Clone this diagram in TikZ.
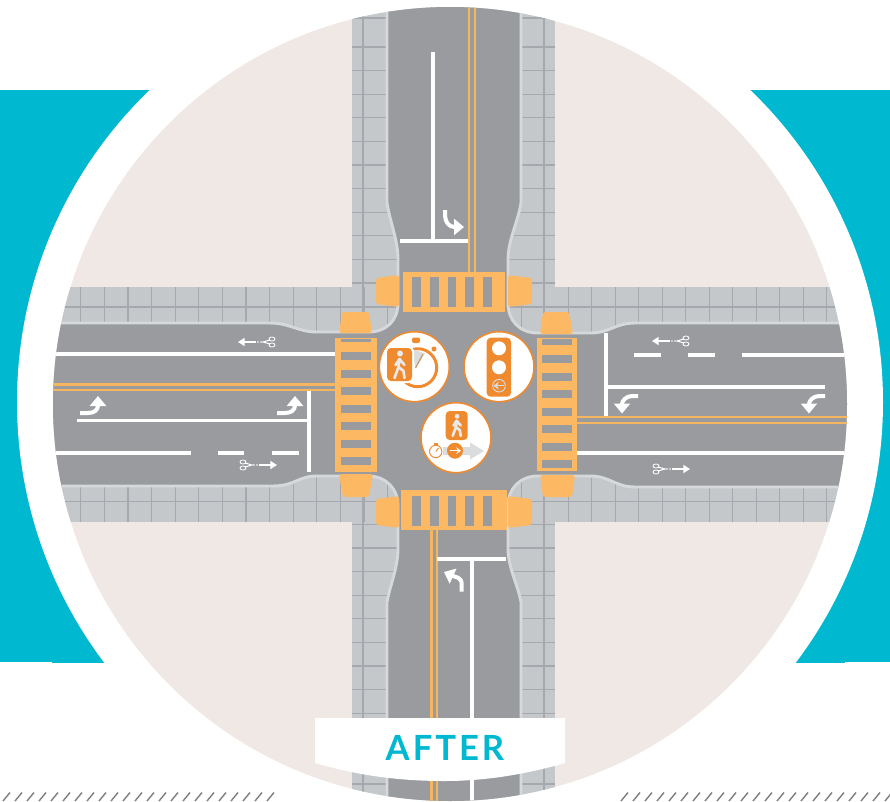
\documentclass[tikz,border=0pt]{standalone}
\usepackage{fontspec}
\setmainfont{Lato}
\newfontfamily\capfont[LetterSpace=8.5]{Lato}
\usetikzlibrary{positioning,arrows.meta,calc}
\definecolor{teal}{HTML}{00B8D0}
\definecolor{sand}{HTML}{F0E8E4}
\definecolor{paving}{HTML}{C5C8CB}
\definecolor{seam}{HTML}{A5A8AC}
\definecolor{asph}{HTML}{999B9F}
\definecolor{kerb}{HTML}{D6D9DB}
\definecolor{ochre}{HTML}{F6B65F}
\definecolor{paint}{HTML}{FDB863}
\definecolor{signor}{HTML}{EF8A2E}
\definecolor{pale}{HTML}{DADCDE}
\definecolor{hatchc}{HTML}{808285}
\tikzset{
  seamln/.style={line width=0.9pt,seam},
  whln/.style={line width=2.7pt,white},
  yelln/.style={line width=1.8pt,ochre},
  kerbln/.style={line width=2.2pt,kerb},
  turn/.style={line width=3pt,white,-{Triangle[length=7.5pt,width=12pt]}},
  bar/.style={fill=paint},
  gap/.style={fill=asph},
  flare/.style={fill=paint,rounded corners=2pt},
  disc/.style={circle,draw=signor,fill=white,line width=1.2pt,minimum size=52.5pt,inner sep=0pt},
  sign/.style={fill=signor,rounded corners=3pt},
  walker/.pic={
    \fill[pale!60!white] (0.5,-11.5) circle[radius=3];
    \draw[pale!60!white,line width=2pt,line cap=round,line join=round]
      (-5,13) -- (-1,2) -- (0,-6) -- (5,0) (-1,2) -- (4,6) -- (5,13) (0,-6) -- (-4,0);
  },
  bike/.pic={
    \draw[white,line width=0.6pt] (0,-3) circle[x radius=3,y radius=2] (0,3) circle[x radius=3,y radius=2];
    \draw[white,line width=0.8pt] (2,-2) -- (9,0) -- (2,2);
    \fill[white] (11,0) circle[radius=.8] (14,0) circle[radius=.8];
    \draw[white,line width=1.3pt,-{Triangle[length=5pt,width=6pt]}] (16,0) -- (34,0);
  },
}
\begin{document}
\begin{tikzpicture}[x=0.75pt,y=-0.75pt]
  \useasboundingbox (0,0) rectangle (890,801);
  \clip (0,0) rectangle (890,801);
  \fill[white] (0,0) rectangle (890,801);
  \fill[teal] (0,90) rectangle (200,662);
  \fill[teal] (52,662) rectangle (200,663);
  \fill[teal] (700,90) rectangle (890,662);
  \fill[teal] (700,662) rectangle (845,663);
  \fill[white] (450,402) circle[radius=433];
  % hatching along the lower edge
  \foreach \x in {10,22,...,274,628,640,...,898}{
    \draw[hatchc,line width=1.1pt] (\x,792.5) -- (\x-7,801);
  }
  \fill[sand] (450,404) circle[radius=397];
  \begin{scope}
    \clip (450,404) circle[radius=397];
    % paving
    \fill[paving] (0,287) rectangle (890,522);
    \fill[paving] (352,0) rectangle (555,801);
    \foreach \x in {80.7,104.3,...,390}{
      \draw[seamln] (\x,287) -- (\x,522);
    }
    \foreach \x in {521.2,544.7,...,860}{
      \draw[seamln] (\x,287) -- (\x,522);
    }
    \foreach \y in {307,501.7}{
      \draw[seamln] (0,\y) -- (398,\y);
      \draw[seamln] (508,\y) -- (890,\y);
    }
    \foreach \x in {363,544}{
      \draw[seamln] (\x,0) -- (\x,801);
    }
    \foreach \y in {18,47,70.6,...,285,524.4,548,...,800}{
      \draw[seamln] (352,\y) -- (398,\y);
      \draw[seamln] (508,\y) -- (555,\y);
    }
    % carriageway
    \draw[kerbln,fill=asph] (387,-5) -- (387,203) .. controls (390,222) and (398,240) .. (398,260)
      -- (398,303) .. controls (398,320) and (387,332) .. (368,332)
      -- (317,332) .. controls (298,332) and (290,323) .. (270,323) -- (-5,323)
      -- (-5,486) -- (273,486) .. controls (295,486) and (298,476) .. (317,476)
      -- (368,476) .. controls (387,476) and (398,490) .. (398,505)
      -- (398,548) .. controls (398,568) and (390,585) .. (387,602) -- (387,806)
      -- (521,806) -- (521,602) .. controls (518,585) and (508,568) .. (508,548)
      -- (508,505) .. controls (508,490) and (519,476) .. (538,476)
      -- (590,476) .. controls (610,476) and (615,487) .. (635,487) -- (895,487)
      -- (895,323) -- (635,323) .. controls (615,323) and (610,333) .. (590,333)
      -- (538,333) .. controls (519,333) and (508,320) .. (508,303)
      -- (508,260) .. controls (508,240) and (518,222) .. (521,203) -- (521,-5) -- cycle;
    % centre lines
    \foreach \y in {384.5,390}{
      \draw[yelln] (0,\y) -- (337,\y);
    }
    \foreach \y in {417,423}{
      \draw[yelln] (577,\y) -- (890,\y);
    }
    \foreach \x in {469,475}{
      \draw[yelln] (\x,0) -- (\x,272);
    }
    \foreach \x in {431.5,437}{
      \draw[yelln] (\x,530) -- (\x,801);
    }
    % lane lines, west
    \draw[whln] (0,354) -- (336,354);
    \draw[whln] (77,420.5) -- (309,420.5);
    \draw[whln] (309,391) -- (309,472);
    \draw[whln] (0,453) -- (191,453) (218,453) -- (244,453) (272,453) -- (299,453);
    % lane lines, east
    \draw[whln] (606,333) -- (606,416);
    \draw[whln] (606,387) -- (825,387);
    \draw[whln] (634,355) -- (661,355) (688,355) -- (715,355) (742,355) -- (890,355);
    \draw[whln] (577,453) -- (890,453);
    % lane lines, north and south
    \draw[whln] (433,52) -- (433,241);
    \draw[whln] (400,241) -- (468,241);
    \draw[whln] (437,558.7) -- (505.7,558.7);
    \draw[whln] (472,558.7) -- (472,801);
    % turn arrows
    \foreach \dx in {0,197}{
      \draw[turn,xshift=\dx*0.75pt] (80,413) -- (88,413) .. controls (94,413) and (98,410) .. (98,396);
    }
    \foreach \dx in {0,187}{
      \draw[turn,xshift=\dx*0.75pt] (638,396) -- (632,396) .. controls (626,396) and (622,401) .. (622,413.5);
    }
    \draw[turn] (445,210) -- (445,215) .. controls (445,222) and (449,227) .. (464,227);
    \draw[turn] (461.7,591.7) -- (461.7,584) .. controls (461.7,577) and (455,577) .. (444,572);
    % bike symbols
    \pic[xscale=-1] at (272,342) {bike};
    \pic at (243,465) {bike};
    \pic[xscale=-1] at (686,341) {bike};
    \pic at (656,469) {bike};
  \end{scope}
  % kerb ramps
  \fill[flare] (376,278) -- (399,275) -- (399,307) -- (376,304) -- cycle;
  \fill[flare] (508,275) -- (532,278) -- (532,304) -- (508,307) -- cycle;
  \fill[flare] (376,499) -- (399,496) -- (399,528) -- (376,525) -- cycle;
  \fill[flare] (508,496) -- (532,499) -- (532,525) -- (508,528) -- cycle;
  \fill[flare] (342,312) -- (369,312) -- (372,333) -- (339,333) -- cycle;
  \fill[flare] (543,312) -- (569,312) -- (573,334) -- (540,334) -- cycle;
  \fill[flare] (339,474) -- (373,474) -- (369,497) -- (343,497) -- cycle;
  \fill[flare] (540,475) -- (575,475) -- (572,497) -- (543,497) -- cycle;
  % crossings
  \fill[bar] (403,272) rectangle (505,312);
  \fill[bar] (401,490) rectangle (507,530);
  \foreach \x in {412.3,430,...,484}{
    \fill[gap] (\x,277) rectangle (\x+8.5,307);
    \fill[gap] (\x,496) rectangle (\x+8.5,526);
  }
  \fill[bar] (335,338) rectangle (377,472);
  \fill[gap] (341,339) rectangle (371,342);
  \foreach \y in {352,369.5,...,458}{
    \fill[gap] (341,\y) rectangle (371,\y+8);
  }
  \fill[bar] (537,338) rectangle (577,471);
  \fill[gap] (542,339) rectangle (572,345);
  \foreach \y in {355,372.5,...,461}{
    \fill[gap] (542,\y) rectangle (572,\y+8);
  }
  % stopwatch sign
  \node[disc] (clockdisc) at (414.3,366.7) {};
  \draw[signor,line width=2.2pt] (417.7,367.7) circle[radius=19];
  \fill[signor,rounded corners=1.5pt] (412,337.5) rectangle (420,343);
  \fill[signor] (434,349) circle[radius=2.5];
  \fill[pale] (415.7,368.3) -- (411.7,349) -- (425,353.3) -- cycle;
  \draw[signor!60!asph,line width=0.8pt] (415.5,368) -- (423,354);
  \fill[white,rounded corners=4pt] (385,346) rectangle (414,383);
  \fill[sign] (387,348) rectangle (412,381);
  \pic[scale=1] at (399.5,365) {walker};
  % signal sign
  \node[disc] (lampdisc) at (499,366.7) {};
  \fill[sign] (486.7,337.7) rectangle (511,396.7);
  \fill[white] (499,348.3) circle[radius=7];
  \fill[white] (499,367.3) circle[radius=7];
  \draw[pale,line width=0.7pt] (499,385.7) circle[radius=6.3];
  \draw[pale,line width=1pt,-{Stealth[length=4pt,width=6pt]}] (504,385.7) -- (493.5,385.7);
  % crossing sign
  \node[disc] (walkdisc) at (456,437.7) {};
  \fill[pale] (443,447) -- (470,447) -- (470,442.5) -- (484,451) -- (470,459.5) -- (470,455) -- (443,455) -- cycle;
  \fill[sign] (445.7,411) rectangle (467.7,440);
  \pic[scale=.8] at (456.7,425.5) {walker};
  \fill[signor] (455,450.7) circle[radius=8];
  \draw[white,line width=1pt,-{Stealth[length=3.5pt,width=5pt]}] (449.5,450.7) -- (461,450.7);
  \draw[signor,line width=0.7pt,fill=white] (435.7,451.5) circle[radius=6.2];
  \draw[signor,line width=0.7pt] (435.7,451.5) -- (438.5,448);
  \draw[signor,line width=1pt] (433.5,444) -- (438,444);
  % caption
  \fill[white] (315,718) -- (565,718) -- (565,763) .. controls (520,776) and (480,781) .. (445,781)
    .. controls (400,781) and (360,776) .. (315,763) -- cycle;
  \node[text=teal,font=\capfont\fontsize{26}{30}\selectfont\bfseries,inner sep=0pt] (afterlbl) at (445,747.5) {AFTER};
\end{tikzpicture}
\end{document}
